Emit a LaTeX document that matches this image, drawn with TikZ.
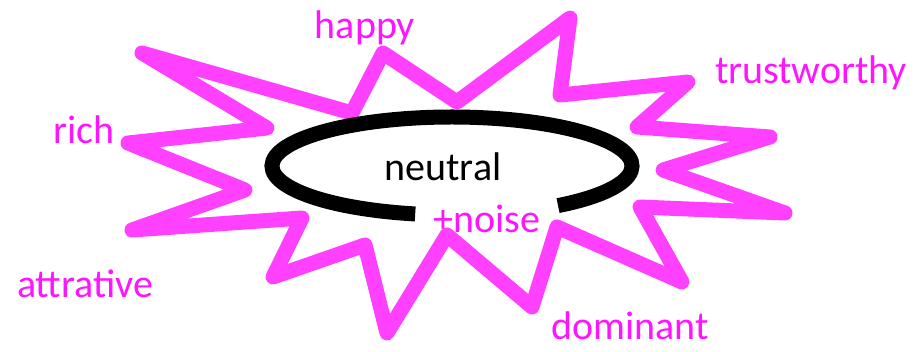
\documentclass[tikz,border=0pt]{standalone}
\usepackage{fontspec}
\setmainfont{Carlito}
\definecolor{starpink}{RGB}{255,64,255}
\definecolor{textpink}{RGB}{255,20,255}
\begin{document}
\begin{tikzpicture}[x=1pt,y=-1pt,
  lbl/.style={text=textpink,font=\fontsize{40}{44}\selectfont,inner sep=0pt,anchor=base},
  starline/.style={draw=starpink,line width=15pt,line join=round,line cap=round},
  ringline/.style={draw=black,line width=15pt}]
\useasboundingbox (0,0) rectangle (917,351);
\draw[starline] (142,53) -- (352,113) -- (383,53) -- (457,102) -- (570,18) -- (560,95)
  -- (688,82) -- (637,127) -- (770,137) -- (663,170) -- (785,213) -- (640,207)
  -- (682,282) -- (557,227) -- (532,307) -- (447,235) -- (387,333) -- (365,245)
  -- (273,277) -- (302,218) -- (132,230) -- (245,190) -- (128,143) -- (267,128) -- cycle;
\coordinate (c) at (452,166);
\draw[ringline] (c) ++(101.8:180 and 49) arc[start angle=101.8,end angle=413.9,x radius=180,y radius=49];
\node[lbl,text=black] (neutral) at (443,180) {neutral};
\node[lbl] (noise) at (487,232) {+noise};
\node[lbl] (happy) at (365,38) {happy};
\node[lbl] (trust) at (811,83) {trustworthy};
\node[lbl] (rich) at (84,143) {rich};
\node[lbl] (attr) at (85,297) {attrative};
\node[lbl,text depth=0pt] (dom) at (630,339) {dominant};
\end{tikzpicture}
\end{document}
